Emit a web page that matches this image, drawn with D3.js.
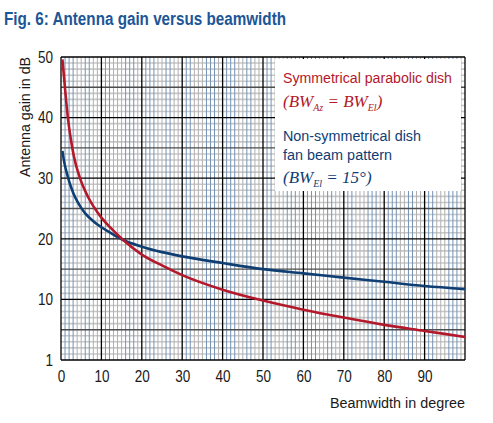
<!DOCTYPE html>
<html><head><meta charset="utf-8">
<script src="https://cdn.jsdelivr.net/npm/d3@7"></script>
<style>
body{margin:0;background:#fff}
svg{display:block}
text{font-family:'Liberation Sans',Arial,sans-serif}
</style></head>
<body><svg id="c" width="493" height="423"></svg>
<script>
// ---- data ----
const xTicks = [0,10,20,30,40,50,60,70,80,90];
const yTicks = [0,10,20,30,40,50];
const yTickLabels = ["1","10","20","30","40","50"];
const symBeamwidth = [0.35,1.0,1.65,2.4,3.2,4.7,6.7,8,10,12,15.4,20,25,30,40,50,60,70,80,90,100];
const symGain      = [49.6,44.8,40.3,36.6,33.6,30.0,26.9,25.4,23.5,22.0,19.8,17.4,15.6,14.0,11.6,9.8,8.3,7.0,5.8,4.8,3.8];
const fanBeamwidth = [0.35,0.6,1,1.5,2,3,4,5,6,8,10,12,15.4,20,25,30,40,50,60,70,80,90,100];
const fanGain      = [34.5,33.4,32.0,30.7,29.5,27.6,26.2,25.1,24.2,22.9,21.9,21.1,19.8,18.7,17.8,17.1,16.0,15.0,14.3,13.6,12.9,12.2,11.7];

const svg = d3.select("#c");
const L=61, R=465, T=57, B=360;
const x = d3.scaleLinear().domain([0,100]).range([L,R]);
const y = d3.scaleLinear().domain([0,50]).range([B,T]);

const RED="#b3182b", NAVY="#0f3e73", INK="#1a1a1a";
const SX=0.82; // condensed look

const g = svg.append("g");
d3.range(1,50).filter(v=>v%5!==0).forEach(v=>{
  g.append("line").attr("x1",L).attr("x2",R).attr("y1",y(v)).attr("y2",y(v))
   .attr("stroke","#c8c8c8").attr("stroke-width",1.6);
});
d3.range(1,100).filter(v=>v%10!==0).forEach(v=>{
  const m=v%10;
  const blue=[1,2,3,6,7].includes(m) ^ (Math.floor(v/10)%2===1 && (m===3||m===8));
  g.append("line").attr("y1",T).attr("y2",B).attr("x1",x(v)).attr("x2",x(v))
   .attr("stroke",blue?"#7593b6":"#b0b0b0").attr("stroke-width",1);
});
d3.range(5,50,10).forEach(v=>{
  g.append("line").attr("x1",L).attr("x2",R).attr("y1",y(v)).attr("y2",y(v))
   .attr("stroke","#4d4d4d").attr("stroke-width",1.4);
});
yTicks.forEach(v=>{
  g.append("line").attr("x1",L).attr("x2",R).attr("y1",y(v)).attr("y2",y(v))
   .attr("stroke","#000").attr("stroke-width",1.3);
});
xTicks.concat([100]).forEach(v=>{
  g.append("line").attr("y1",T).attr("y2",B).attr("x1",x(v)).attr("x2",x(v))
   .attr("stroke","#000").attr("stroke-width",1.3);
});

const yAxis = d3.axisLeft(y).tickValues(yTicks).tickSize(0).tickPadding(8/SX)
  .tickFormat((d,i)=>yTickLabels[i]);
const ya = svg.append("g").attr("transform",`translate(${L},0)`).call(yAxis);
ya.select(".domain").remove();
ya.selectAll("text").attr("font-size",16.5).attr("fill",INK).attr("transform",`scale(${SX},1)`)
  .style("font-family","'Liberation Sans',Arial,sans-serif");

const xAxis = d3.axisBottom(x).tickValues(xTicks).tickSize(0).tickPadding(10);
const xa = svg.append("g").attr("transform",`translate(0,${B})`).call(xAxis);
xa.select(".domain").remove();
xa.selectAll("text").attr("font-size",16.5).attr("fill",INK).attr("transform",`scale(${SX},1)`)
  .style("font-family","'Liberation Sans',Arial,sans-serif");

svg.append("rect").attr("x",275).attr("y",59).attr("width",186).attr("height",132).attr("fill","#fff");

const line = d3.line().x(d=>x(d[0])).y(d=>y(d[1])).curve(d3.curveMonotoneX);
svg.append("path").datum(fanBeamwidth.map((b,i)=>[b,fanGain[i]]))
  .attr("d",line).attr("fill","none").attr("stroke",NAVY).attr("stroke-width",2.6);
svg.append("path").datum(symBeamwidth.map((b,i)=>[b,symGain[i]]))
  .attr("d",line).attr("fill","none").attr("stroke",RED).attr("stroke-width",2.6);

function fit(sel,w){ return sel.attr("textLength",w).attr("lengthAdjust","spacingAndGlyphs"); }

fit(svg.append("text").attr("x",4).attr("y",25).attr("font-size",18).attr("font-weight","bold")
  .attr("fill","#1c5696").text("Fig. 6: Antenna gain versus beamwidth"),282);

fit(svg.append("text").attr("transform","translate(30,117) rotate(-90)").attr("text-anchor","middle")
  .attr("font-size",15.5).attr("fill",INK).text("Antenna gain in dB"),120);
fit(svg.append("text").attr("x",330).attr("y",408)
  .attr("font-size",15.5).attr("fill",INK).text("Beamwidth in degree"),135);

const lx=283;
fit(svg.append("text").attr("x",lx).attr("y",83).attr("font-size",15.5).attr("fill",RED).text("Symmetrical parabolic dish"),169);
const serif="'Liberation Serif','DejaVu Serif',serif";
const t1=svg.append("text").attr("x",lx).attr("y",107).attr("font-size",17).attr("fill",RED)
  .attr("font-style","italic").style("font-family",serif);
t1.append("tspan").text("(BW");
t1.append("tspan").attr("font-size",10).attr("dy",4).text("Az");
t1.append("tspan").attr("dy",-4).text(" = BW");
t1.append("tspan").attr("font-size",10).attr("dy",4).text("El");
t1.append("tspan").attr("dy",-4).text(")");
fit(svg.append("text").attr("x",lx).attr("y",141).attr("font-size",15.5).attr("fill",NAVY).text("Non-symmetrical dish"),138);
fit(svg.append("text").attr("x",lx).attr("y",160).attr("font-size",15.5).attr("fill",NAVY).text("fan beam pattern"),109);
const t2=svg.append("text").attr("x",lx).attr("y",183).attr("font-size",17).attr("fill",NAVY)
  .attr("font-style","italic").style("font-family",serif);
t2.append("tspan").text("(BW");
t2.append("tspan").attr("font-size",10).attr("dy",4).text("El");
t2.append("tspan").attr("dy",-4).text(" = 15°)");
</script></body></html>
